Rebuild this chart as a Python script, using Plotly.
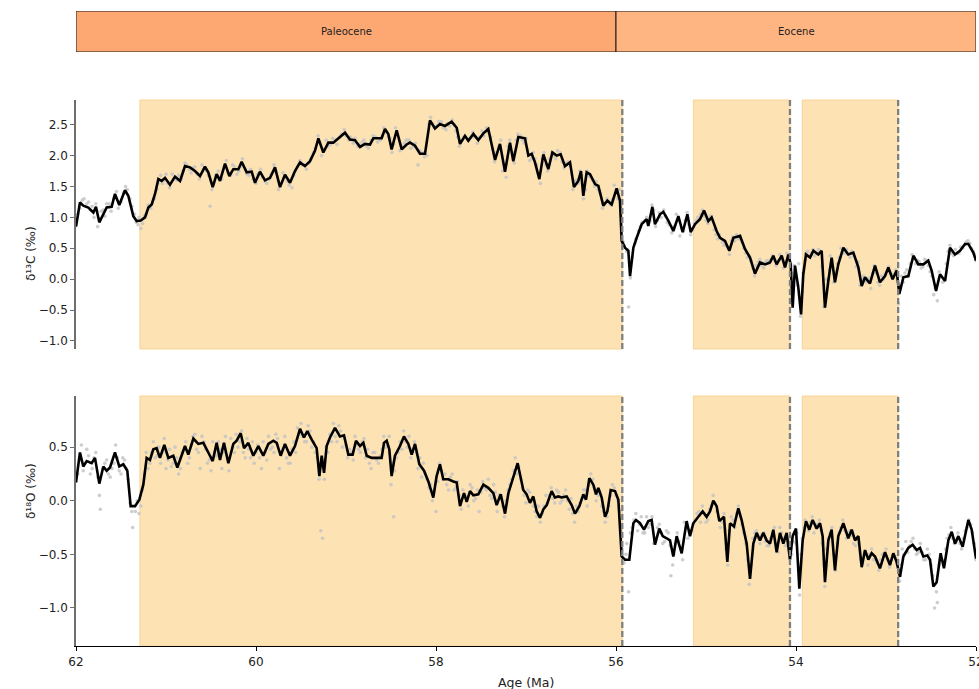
import plotly.graph_objects as go

# ---------------- data ----------------
# Smoothed benthic d13C record (age Ma, permil)
d13c_curve = [
    (62.000, 0.85), (61.956, 1.24), (61.919, 1.19), (61.863, 1.16), (61.807, 1.08), (61.778, 1.17),
    (61.741, 0.92), (61.696, 1.05), (61.659, 1.16), (61.604, 1.17), (61.567, 1.38), (61.519, 1.20),
    (61.456, 1.44), (61.419, 1.35), (61.363, 1.02), (61.326, 0.94), (61.281, 0.95), (61.233, 1.00),
    (61.196, 1.16), (61.159, 1.21), (61.122, 1.38), (61.085, 1.62), (61.048, 1.59), (61.011, 1.64),
    (60.956, 1.53), (60.900, 1.66), (60.844, 1.59), (60.789, 1.83), (60.733, 1.81), (60.678, 1.75),
    (60.622, 1.67), (60.567, 1.82), (60.530, 1.73), (60.481, 1.49), (60.437, 1.70), (60.400, 1.59),
    (60.344, 1.87), (60.296, 1.67), (60.252, 1.78), (60.196, 1.78), (60.159, 1.90), (60.104, 1.73),
    (60.048, 1.74), (60.011, 1.56), (59.956, 1.74), (59.900, 1.60), (59.844, 1.64), (59.789, 1.81),
    (59.733, 1.49), (59.678, 1.69), (59.622, 1.56), (59.567, 1.75), (59.511, 1.89), (59.456, 1.83),
    (59.400, 1.91), (59.344, 2.08), (59.307, 2.28), (59.252, 2.05), (59.196, 2.21), (59.141, 2.21),
    (59.085, 2.28), (59.011, 2.37), (58.956, 2.26), (58.900, 2.25), (58.844, 2.14), (58.789, 2.19),
    (58.733, 2.18), (58.696, 2.28), (58.604, 2.28), (58.567, 2.43), (58.530, 2.35), (58.493, 2.10),
    (58.437, 2.41), (58.381, 2.10), (58.326, 2.18), (58.289, 2.21), (58.233, 2.16), (58.178, 2.03),
    (58.122, 2.03), (58.067, 2.57), (58.011, 2.44), (57.956, 2.51), (57.900, 2.48), (57.826, 2.55),
    (57.770, 2.45), (57.733, 2.19), (57.678, 2.32), (57.641, 2.24), (57.585, 2.35), (57.530, 2.25),
    (57.474, 2.36), (57.419, 2.43), (57.344, 1.93), (57.289, 2.19), (57.233, 1.74), (57.178, 2.21),
    (57.141, 1.91), (57.085, 2.30), (57.011, 2.28), (56.974, 2.00), (56.937, 2.03), (56.900, 1.89),
    (56.852, 1.62), (56.807, 2.02), (56.752, 1.78), (56.707, 2.05), (56.659, 2.00), (56.615, 2.02),
    (56.567, 1.83), (56.511, 1.89), (56.467, 1.49), (56.419, 1.59), (56.389, 1.75), (56.363, 1.35),
    (56.326, 1.73), (56.289, 1.70), (56.233, 1.54), (56.196, 1.51), (56.141, 1.19), (56.096, 1.27),
    (56.048, 1.21), (55.993, 1.47), (55.956, 1.27), (55.937, 0.62), (55.900, 0.51), (55.863, 0.46),
    (55.844, 0.05), (55.807, 0.51), (55.770, 0.67), (55.715, 0.89), (55.659, 0.97), (55.641, 0.86),
    (55.596, 1.17), (55.567, 0.89), (55.511, 1.05), (55.474, 1.09), (55.419, 0.95), (55.363, 0.78),
    (55.307, 1.02), (55.259, 0.76), (55.207, 1.05), (55.170, 0.76), (55.122, 0.89), (55.067, 0.97),
    (55.022, 1.11), (54.974, 0.94), (54.937, 1.00), (54.882, 0.78), (54.844, 0.67), (54.789, 0.62),
    (54.741, 0.46), (54.696, 0.67), (54.622, 0.70), (54.567, 0.49), (54.511, 0.35), (54.456, 0.09),
    (54.400, 0.27), (54.344, 0.24), (54.289, 0.27), (54.252, 0.38), (54.215, 0.24), (54.159, 0.38),
    (54.122, 0.19), (54.085, 0.40), (54.059, 0.24), (54.037, -0.46), (54.011, 0.22), (53.974, -0.14),
    (53.944, -0.57), (53.919, 0.08), (53.889, 0.40), (53.844, 0.35), (53.807, 0.46), (53.752, 0.40),
    (53.715, 0.46), (53.678, -0.46), (53.641, -0.03), (53.604, 0.35), (53.567, -0.05), (53.530, 0.24),
    (53.474, 0.51), (53.419, 0.40), (53.363, 0.43), (53.307, 0.19), (53.270, -0.11), (53.233, 0.03),
    (53.178, -0.07), (53.122, 0.22), (53.067, -0.05), (53.011, 0.05), (52.974, 0.19), (52.926, 0.00),
    (52.882, 0.14), (52.852, -0.24), (52.807, 0.03), (52.752, 0.05), (52.696, 0.38), (52.641, 0.24),
    (52.585, 0.24), (52.530, 0.30), (52.493, 0.14), (52.444, -0.19), (52.400, 0.08), (52.344, -0.03),
    (52.289, 0.51), (52.233, 0.40), (52.178, 0.46), (52.122, 0.57), (52.085, 0.57), (52.030, 0.43),
    (52.000, 0.30),
]

# Individual d13C measurements
d13c_samples = [
    (61.98, 1.05), (61.93, 1.28), (61.88, 1.22), (61.84, 1.12), (61.80, 1.00), (61.76, 0.85),
    (61.72, 1.10), (61.68, 1.02), (61.63, 1.22), (61.58, 1.30), (61.55, 1.42), (61.50, 1.25),
    (61.45, 1.50), (61.40, 1.30), (61.35, 1.05), (61.31, 0.88), (61.28, 0.82), (61.24, 1.02),
    (61.20, 1.20), (61.15, 1.25), (61.10, 1.45), (61.06, 1.68), (61.02, 1.60), (60.98, 1.55),
    (60.93, 1.70), (60.88, 1.60), (60.83, 1.62), (60.79, 1.88), (60.74, 1.78), (60.70, 1.80),
    (60.65, 1.70), (60.60, 1.85), (60.55, 1.75), (60.51, 1.18), (60.47, 1.55), (60.42, 1.75),
    (60.38, 1.62), (60.33, 1.92), (60.28, 1.68), (60.24, 1.82), (60.19, 1.75), (60.15, 1.95),
    (60.10, 1.70), (60.06, 1.78), (60.00, 1.55), (59.95, 1.78), (59.90, 1.58), (59.85, 1.62),
    (59.80, 1.85), (59.75, 1.45), (59.70, 1.72), (59.65, 1.58), (59.60, 1.48), (59.56, 1.75),
    (59.51, 1.92), (59.46, 1.85), (59.41, 1.88), (59.36, 2.05), (59.31, 2.32), (59.27, 2.00),
    (59.22, 2.25), (59.17, 2.18), (59.12, 2.25), (59.07, 2.30), (59.02, 2.42), (58.97, 2.25),
    (58.92, 2.20), (58.87, 2.15), (58.82, 2.22), (58.77, 2.15), (58.72, 2.25), (58.67, 2.30),
    (58.62, 2.25), (58.58, 2.45), (58.53, 2.30), (58.49, 2.05), (58.45, 2.45), (58.40, 2.08),
    (58.35, 2.20), (58.30, 2.25), (58.25, 2.15), (58.20, 1.85), (58.15, 2.05), (58.10, 2.00),
    (58.06, 2.62), (58.02, 2.45), (57.97, 2.55), (57.92, 2.45), (57.87, 2.52), (57.82, 2.58),
    (57.78, 2.40), (57.74, 2.15), (57.69, 2.30), (57.64, 2.25), (57.59, 2.38), (57.54, 2.20),
    (57.49, 2.40), (57.44, 2.45), (57.39, 2.30), (57.35, 1.90), (57.30, 2.15), (57.26, 1.75),
    (57.22, 1.65), (57.18, 2.25), (57.13, 1.88), (57.09, 2.35), (57.04, 2.25), (57.00, 2.28),
    (56.96, 1.92), (56.92, 2.05), (56.88, 1.85), (56.84, 1.55), (56.80, 2.05), (56.76, 1.75),
    (56.71, 2.05), (56.67, 1.95), (56.62, 2.05), (56.58, 1.80), (56.53, 1.90), (56.48, 1.45),
    (56.44, 1.60), (56.40, 1.75), (56.36, 1.30), (56.32, 1.75), (56.28, 1.65), (56.24, 1.50),
    (56.20, 1.45), (56.15, 1.15), (56.10, 1.30), (56.06, 1.20), (56.02, 1.52), (55.98, 1.30),
    (55.94, 0.75), (55.91, 0.55), (55.87, 0.48), (55.84, 0.02), (55.86, -0.45), (55.78, 0.65),
    (55.73, 0.85), (55.68, 0.95), (55.64, 0.90), (55.60, 1.20), (55.56, 0.85), (55.52, 1.08),
    (55.47, 1.12), (55.43, 0.92), (55.38, 0.75), (55.33, 1.05), (55.29, 0.70), (55.25, 0.78),
    (55.21, 1.08), (55.17, 0.72), (55.13, 0.90), (55.09, 1.00), (55.04, 1.12), (55.00, 0.95),
    (54.95, 1.02), (54.91, 0.80), (54.87, 0.65), (54.82, 0.60), (54.78, 0.55), (54.74, 0.40),
    (54.70, 0.68), (54.66, 0.72), (54.62, 0.70), (54.58, 0.50), (54.54, 0.35), (54.50, 0.30),
    (54.46, 0.05), (54.42, 0.28), (54.38, 0.22), (54.34, 0.28), (54.30, 0.25), (54.26, 0.38),
    (54.22, 0.22), (54.18, 0.40), (54.14, 0.18), (54.10, 0.42), (54.06, 0.25), (54.04, -0.40),
    (54.02, 0.22), (53.98, -0.10), (53.95, -0.60), (53.92, 0.10), (53.89, 0.42), (53.85, 0.38),
    (53.81, 0.48), (53.77, 0.42), (53.73, 0.45), (53.69, -0.45), (53.66, 0.00), (53.62, 0.38),
    (53.58, -0.05), (53.54, 0.25), (53.50, 0.50), (53.46, 0.42), (53.42, 0.40), (53.38, 0.45),
    (53.33, 0.20), (53.29, -0.10), (53.25, 0.05), (53.21, -0.05), (53.17, -0.15), (53.13, 0.22),
    (53.09, -0.05), (53.05, 0.05), (53.01, 0.08), (52.97, 0.20), (52.93, 0.02), (52.89, 0.15),
    (52.86, -0.40), (52.83, 0.05), (52.79, 0.10), (52.75, 0.05), (52.71, 0.40), (52.67, 0.25),
    (52.63, 0.28), (52.59, 0.20), (52.55, 0.30), (52.51, 0.12), (52.47, -0.25), (52.43, -0.35),
    (52.39, 0.05), (52.35, 0.00), (52.31, 0.45), (52.27, 0.42), (52.23, 0.48), (52.19, 0.42),
    (52.15, 0.50), (52.11, 0.60), (52.07, 0.58), (52.03, 0.45), (52.00, 0.30),
    (61.96, 1.15), (61.91, 1.30), (61.86, 1.25), (61.82, 1.18), (61.78, 1.22), (61.74, 0.98),
    (61.70, 1.12), (61.66, 1.22), (61.61, 1.10), (61.57, 1.32), (61.53, 1.15), (61.47, 1.40),
    (61.43, 1.45), (61.38, 1.18), (61.33, 0.92), (61.30, 1.00), (61.26, 0.90), (61.22, 1.05),
    (61.17, 1.15), (61.13, 1.30), (61.09, 1.55), (61.04, 1.55), (61.00, 1.70), (60.96, 1.48),
    (60.91, 1.62), (60.86, 1.68), (60.81, 1.75), (60.77, 1.85), (60.72, 1.72), (60.68, 1.82),
    (60.63, 1.62), (60.58, 1.78), (60.53, 1.68), (60.49, 1.45), (60.45, 1.68), (60.40, 1.65),
    (60.35, 1.80), (60.31, 1.72), (60.26, 1.85), (60.21, 1.70), (60.17, 1.82), (60.12, 1.78),
    (60.08, 1.68), (60.03, 1.62), (59.98, 1.70), (59.93, 1.65), (59.88, 1.55), (59.83, 1.70),
    (59.78, 1.75), (59.73, 1.55), (59.68, 1.65), (59.63, 1.52), (59.58, 1.68), (59.54, 1.82),
    (59.49, 1.85), (59.44, 1.78), (59.39, 1.95), (59.34, 2.12), (59.29, 2.22), (59.24, 2.10),
    (59.20, 2.15), (59.15, 2.28), (59.10, 2.18), (59.05, 2.35), (59.00, 2.32), (58.95, 2.30),
    (58.90, 2.28), (58.85, 2.18), (58.80, 2.25), (58.75, 2.12), (58.70, 2.32), (58.65, 2.22),
    (58.60, 2.32), (58.56, 2.38), (58.51, 2.28), (58.47, 2.18), (58.43, 2.35), (58.38, 2.15),
    (58.33, 2.25), (58.28, 2.12), (58.23, 2.20), (58.18, 2.08), (58.13, 1.98), (58.08, 2.50),
    (58.04, 2.52), (57.99, 2.48), (57.94, 2.55), (57.89, 2.42), (57.85, 2.48), (57.80, 2.50),
    (57.76, 2.30), (57.71, 2.25), (57.66, 2.28), (57.61, 2.30), (57.57, 2.30), (57.52, 2.30),
    (57.47, 2.32), (57.42, 2.38), (57.37, 2.10), (57.33, 2.05), (57.28, 2.25), (57.24, 1.85),
    (57.20, 2.15), (57.15, 2.05), (57.11, 2.25), (57.06, 2.32), (57.02, 2.20), (56.98, 2.10),
    (56.94, 1.95), (56.90, 1.95), (56.86, 1.70), (56.82, 1.95), (56.78, 1.85), (56.74, 1.95),
    (56.69, 2.00), (56.65, 2.08), (56.60, 1.90), (56.56, 1.88), (56.51, 1.82), (56.46, 1.58),
    (56.42, 1.55), (56.38, 1.68), (56.34, 1.45), (56.30, 1.68), (56.26, 1.60), (56.22, 1.58),
    (56.18, 1.40), (56.13, 1.22), (56.08, 1.25), (56.04, 1.28), (56.00, 1.40), (55.96, 1.45),
    (55.92, 0.60), (55.88, 0.45), (55.82, 0.35), (55.79, 0.58), (55.75, 0.78), (55.71, 0.92),
    (55.66, 1.00), (55.62, 0.95), (55.58, 1.12), (55.54, 0.95), (55.50, 1.00), (55.45, 1.02),
    (55.41, 0.88), (55.36, 0.85), (55.31, 0.95), (55.27, 0.82), (55.23, 0.95), (55.19, 0.88),
    (55.15, 0.82), (55.11, 0.95), (55.06, 1.05), (55.02, 1.02), (54.98, 0.90), (54.93, 0.95),
    (54.89, 0.72), (54.85, 0.72), (54.80, 0.55), (54.76, 0.52), (54.72, 0.62), (54.68, 0.62),
    (54.64, 0.65), (54.60, 0.60), (54.56, 0.42), (54.52, 0.38), (54.48, 0.18), (54.44, 0.22),
    (54.40, 0.32), (54.36, 0.18), (54.32, 0.30), (54.28, 0.32), (54.24, 0.30), (54.20, 0.30),
    (54.16, 0.32), (54.12, 0.28), (54.08, 0.35), (54.05, 0.10), (54.00, 0.05), (53.97, 0.25),
    (53.93, -0.20), (53.90, 0.30), (53.87, 0.45), (53.83, 0.42), (53.79, 0.38), (53.75, 0.48),
    (53.71, 0.20), (53.67, -0.30), (53.63, 0.15), (53.60, 0.30), (53.56, 0.12), (53.52, 0.35),
    (53.48, 0.45), (53.44, 0.48), (53.40, 0.35), (53.36, 0.38), (53.31, 0.28), (53.27, 0.00),
    (53.23, -0.02), (53.19, 0.02), (53.15, 0.10), (53.11, 0.10), (53.07, -0.10), (53.03, 0.00),
    (52.99, 0.12), (52.95, 0.10), (52.91, 0.08), (52.87, 0.05), (52.84, -0.15), (52.81, -0.05),
    (52.77, 0.15), (52.73, 0.25), (52.69, 0.35), (52.65, 0.30), (52.61, 0.18), (52.57, 0.32),
    (52.53, 0.22), (52.49, 0.05), (52.45, -0.15), (52.41, 0.12), (52.37, -0.05), (52.33, 0.25),
    (52.29, 0.55), (52.25, 0.38), (52.21, 0.42), (52.17, 0.52), (52.13, 0.55), (52.09, 0.62),
    (52.05, 0.50), (52.01, 0.40),
]

# Smoothed benthic d18O record (age Ma, permil)
d18o_curve = [
    (62.000, 0.17), (61.956, 0.45), (61.919, 0.32), (61.881, 0.37), (61.826, 0.35), (61.789, 0.40),
    (61.741, 0.16), (61.696, 0.32), (61.659, 0.28), (61.622, 0.31), (61.567, 0.45), (61.519, 0.32),
    (61.474, 0.34), (61.430, 0.28), (61.393, -0.05), (61.344, -0.05), (61.296, 0.01), (61.252, 0.15),
    (61.215, 0.40), (61.178, 0.38), (61.141, 0.48), (61.104, 0.49), (61.067, 0.40), (61.019, 0.52),
    (60.974, 0.40), (60.919, 0.42), (60.874, 0.31), (60.826, 0.42), (60.789, 0.51), (60.752, 0.43),
    (60.696, 0.58), (60.641, 0.53), (60.585, 0.54), (60.530, 0.45), (60.481, 0.37), (60.437, 0.54),
    (60.400, 0.38), (60.356, 0.54), (60.307, 0.35), (60.252, 0.53), (60.215, 0.56), (60.170, 0.63),
    (60.133, 0.49), (60.085, 0.54), (60.030, 0.42), (59.974, 0.51), (59.919, 0.42), (59.863, 0.53),
    (59.807, 0.56), (59.770, 0.54), (59.726, 0.42), (59.678, 0.53), (59.622, 0.42), (59.567, 0.51),
    (59.511, 0.67), (59.467, 0.59), (59.430, 0.65), (59.381, 0.57), (59.326, 0.49), (59.296, 0.23),
    (59.270, 0.42), (59.244, 0.26), (59.215, 0.51), (59.178, 0.59), (59.122, 0.68), (59.067, 0.60),
    (59.022, 0.61), (58.974, 0.43), (58.926, 0.43), (58.889, 0.56), (58.844, 0.51), (58.807, 0.54),
    (58.770, 0.42), (58.715, 0.40), (58.659, 0.40), (58.604, 0.40), (58.578, 0.54), (58.548, 0.56),
    (58.519, 0.48), (58.493, 0.23), (58.456, 0.42), (58.400, 0.51), (58.356, 0.60), (58.307, 0.53),
    (58.270, 0.43), (58.233, 0.53), (58.185, 0.34), (58.133, 0.28), (58.085, 0.18), (58.030, 0.03),
    (57.993, 0.23), (57.956, 0.34), (57.919, 0.20), (57.863, 0.20), (57.807, 0.18), (57.770, 0.17),
    (57.733, -0.05), (57.689, 0.07), (57.659, -0.01), (57.622, 0.09), (57.585, 0.05), (57.530, 0.06),
    (57.474, 0.15), (57.419, 0.12), (57.363, 0.07), (57.326, -0.04), (57.281, 0.06), (57.233, -0.12),
    (57.196, 0.07), (57.148, 0.20), (57.093, 0.35), (57.030, 0.10), (56.993, 0.06), (56.956, -0.02),
    (56.919, 0.04), (56.881, -0.10), (56.844, -0.16), (56.807, -0.08), (56.770, -0.04), (56.715, 0.09),
    (56.678, 0.03), (56.641, 0.04), (56.604, 0.03), (56.548, 0.04), (56.493, -0.04), (56.456, -0.12),
    (56.407, -0.05), (56.363, 0.06), (56.333, 0.01), (56.296, 0.21), (56.252, 0.15), (56.222, 0.06),
    (56.196, 0.12), (56.159, 0.03), (56.122, -0.15), (56.096, -0.10), (56.059, 0.10), (56.011, 0.09),
    (55.974, 0.01), (55.937, -0.52), (55.900, -0.55), (55.852, -0.55), (55.807, -0.21), (55.778, -0.18),
    (55.733, -0.21), (55.689, -0.27), (55.641, -0.19), (55.604, -0.18), (55.567, -0.41), (55.519, -0.26),
    (55.481, -0.33), (55.437, -0.35), (55.400, -0.37), (55.363, -0.52), (55.326, -0.33), (55.270, -0.49),
    (55.215, -0.19), (55.178, -0.33), (55.141, -0.21), (55.085, -0.15), (55.037, -0.10), (54.993, -0.15),
    (54.956, -0.10), (54.919, 0.00), (54.882, -0.05), (54.852, -0.19), (54.800, -0.15), (54.763, -0.57),
    (54.733, -0.21), (54.689, -0.24), (54.641, -0.07), (54.604, -0.18), (54.548, -0.40), (54.511, -0.73),
    (54.474, -0.40), (54.437, -0.30), (54.400, -0.37), (54.363, -0.30), (54.326, -0.37), (54.289, -0.40),
    (54.252, -0.27), (54.215, -0.48), (54.178, -0.30), (54.141, -0.40), (54.104, -0.30), (54.067, -0.55),
    (54.037, -0.33), (54.000, -0.26), (53.963, -0.82), (53.926, -0.37), (53.889, -0.19), (53.852, -0.27),
    (53.815, -0.18), (53.770, -0.26), (53.733, -0.21), (53.704, -0.33), (53.678, -0.76), (53.641, -0.37),
    (53.604, -0.27), (53.567, -0.65), (53.530, -0.33), (53.474, -0.21), (53.419, -0.35), (53.381, -0.27),
    (53.344, -0.37), (53.307, -0.33), (53.270, -0.62), (53.233, -0.46), (53.196, -0.55), (53.159, -0.49),
    (53.122, -0.52), (53.067, -0.63), (53.011, -0.48), (52.956, -0.60), (52.919, -0.49), (52.882, -0.57),
    (52.844, -0.71), (52.807, -0.52), (52.752, -0.44), (52.704, -0.41), (52.659, -0.46), (52.622, -0.44),
    (52.585, -0.52), (52.541, -0.51), (52.511, -0.55), (52.474, -0.80), (52.437, -0.76), (52.393, -0.49),
    (52.356, -0.63), (52.307, -0.37), (52.270, -0.29), (52.233, -0.40), (52.196, -0.33), (52.148, -0.43),
    (52.085, -0.18), (52.048, -0.27), (52.000, -0.54),
]

# Individual d18O measurements
d18o_samples = [
    (61.98, 0.25), (61.94, 0.52), (61.90, 0.35), (61.86, 0.42), (61.82, 0.30), (61.78, 0.45),
    (61.74, 0.05), (61.73, -0.08), (61.68, 0.35), (61.64, 0.25), (61.60, 0.30), (61.56, 0.52),
    (61.52, 0.28), (61.48, 0.40), (61.44, 0.30), (61.40, -0.02), (61.37, -0.25), (61.34, -0.10),
    (61.30, -0.12), (61.26, 0.10), (61.22, 0.45), (61.18, 0.35), (61.14, 0.55), (61.10, 0.42),
    (61.06, 0.35), (61.02, 0.58), (60.98, 0.38), (60.94, 0.32), (60.90, 0.50), (60.86, 0.25),
    (60.82, 0.45), (60.78, 0.55), (60.74, 0.40), (60.70, 0.60), (60.66, 0.48), (60.62, 0.30),
    (60.58, 0.55), (60.54, 0.35), (60.50, 0.28), (60.46, 0.45), (60.42, 0.55), (60.38, 0.30),
    (60.34, 0.60), (60.30, 0.28), (60.26, 0.50), (60.22, 0.62), (60.18, 0.55), (60.14, 0.45),
    (60.10, 0.58), (60.06, 0.40), (60.02, 0.35), (59.98, 0.52), (59.94, 0.30), (59.90, 0.45),
    (59.86, 0.60), (59.82, 0.50), (59.78, 0.62), (59.74, 0.30), (59.70, 0.48), (59.66, 0.40),
    (59.62, 0.35), (59.58, 0.55), (59.54, 0.68), (59.50, 0.72), (59.46, 0.55), (59.42, 0.70),
    (59.38, 0.50), (59.34, 0.45), (59.30, 0.20), (59.28, -0.28), (59.26, -0.35), (59.22, 0.50),
    (59.18, 0.62), (59.14, 0.72), (59.10, 0.55), (59.06, 0.65), (59.02, 0.58), (58.98, 0.40),
    (58.94, 0.45), (58.90, 0.60), (58.86, 0.48), (58.82, 0.55), (58.78, 0.40), (58.74, 0.35),
    (58.70, 0.45), (58.66, 0.38), (58.62, 0.42), (58.58, 0.60), (58.54, 0.52), (58.50, 0.15),
    (58.47, -0.15), (58.44, 0.40), (58.40, 0.55), (58.36, 0.65), (58.32, 0.50), (58.28, 0.40),
    (58.24, 0.55), (58.20, 0.30), (58.16, 0.22), (58.12, 0.25), (58.08, 0.12), (58.04, 0.00),
    (58.00, -0.10), (57.96, 0.35), (57.92, 0.20), (57.88, 0.15), (57.84, 0.22), (57.80, 0.10),
    (57.76, 0.18), (57.72, -0.08), (57.68, 0.05), (57.64, -0.05), (57.60, 0.12), (57.56, 0.02),
    (57.52, -0.10), (57.48, 0.18), (57.44, 0.10), (57.40, 0.05), (57.36, 0.15), (57.32, -0.10),
    (57.28, 0.02), (57.24, -0.15), (57.20, 0.10), (57.16, 0.20), (57.12, 0.40), (57.08, 0.32),
    (57.04, 0.12), (57.00, -0.02), (56.96, 0.08), (56.92, -0.05), (56.88, -0.15), (56.84, -0.20),
    (56.80, -0.05), (56.76, -0.02), (56.72, 0.12), (56.68, -0.02), (56.64, 0.08), (56.60, 0.00),
    (56.56, 0.10), (56.52, -0.08), (56.48, -0.12), (56.44, -0.05), (56.40, -0.02), (56.36, 0.10),
    (56.32, -0.05), (56.28, 0.25), (56.24, 0.12), (56.20, 0.05), (56.16, -0.05), (56.12, -0.20),
    (56.08, -0.05), (56.04, 0.15), (56.00, 0.05), (55.96, -0.10), (55.93, -0.45), (55.89, -0.50),
    (55.86, -0.85), (55.82, -0.25), (55.78, -0.12), (55.74, -0.22), (55.70, -0.30), (55.66, -0.15),
    (55.62, -0.22), (55.58, -0.40), (55.54, -0.25), (55.50, -0.30), (55.46, -0.38), (55.42, -0.30),
    (55.39, -0.70), (55.36, -0.50), (55.32, -0.30), (55.28, -0.45), (55.24, -0.20), (55.20, -0.35),
    (55.16, -0.28), (55.12, -0.18), (55.08, -0.10), (55.04, -0.05), (55.00, -0.20), (54.96, -0.08),
    (54.92, 0.05), (54.88, -0.10), (54.84, -0.25), (54.80, -0.12), (54.76, -0.60), (54.72, -0.15),
    (54.68, -0.25), (54.64, -0.05), (54.60, -0.22), (54.56, -0.40), (54.52, -0.78), (54.48, -0.35),
    (54.44, -0.28), (54.40, -0.40), (54.36, -0.30), (54.32, -0.42), (54.28, -0.35), (54.24, -0.25),
    (54.20, -0.48), (54.16, -0.30), (54.12, -0.42), (54.08, -0.35), (54.05, -0.50), (54.02, -0.30),
    (53.99, -0.30), (53.96, -0.88), (53.93, -0.35), (53.90, -0.18), (53.86, -0.28), (53.82, -0.15),
    (53.78, -0.25), (53.74, -0.18), (53.71, -0.40), (53.68, -0.80), (53.64, -0.35), (53.60, -0.25),
    (53.56, -0.65), (53.52, -0.30), (53.48, -0.18), (53.44, -0.35), (53.40, -0.28), (53.36, -0.40),
    (53.32, -0.35), (53.28, -0.55), (53.24, -0.48), (53.20, -0.60), (53.16, -0.45), (53.12, -0.55),
    (53.08, -0.65), (53.04, -0.50), (53.00, -0.45), (52.96, -0.62), (52.92, -0.50), (52.88, -0.58),
    (52.85, -0.75), (52.82, -0.45), (52.78, -0.38), (52.74, -0.42), (52.70, -0.35), (52.66, -0.50),
    (52.62, -0.40), (52.58, -0.55), (52.54, -0.45), (52.50, -0.60), (52.46, -1.00), (52.43, -0.95),
    (52.40, -0.55), (52.36, -0.60), (52.32, -0.35), (52.28, -0.25), (52.24, -0.40), (52.20, -0.30),
    (52.16, -0.45), (52.12, -0.28), (52.08, -0.18), (52.04, -0.30), (52.00, -0.55),
    (61.96, 0.38), (61.92, 0.28), (61.88, 0.48), (61.84, 0.25), (61.80, 0.40), (61.76, 0.22),
    (61.70, 0.30), (61.66, 0.38), (61.62, 0.22), (61.58, 0.35), (61.54, 0.40), (61.50, 0.25),
    (61.46, 0.38), (61.42, 0.20), (61.38, -0.10), (61.32, 0.00), (61.28, -0.05), (61.24, 0.25),
    (61.20, 0.30), (61.16, 0.45), (61.12, 0.40), (61.08, 0.50), (61.04, 0.45), (61.00, 0.30),
    (60.96, 0.48), (60.92, 0.35), (60.88, 0.40), (60.84, 0.30), (60.80, 0.48), (60.76, 0.35),
    (60.72, 0.52), (60.68, 0.62), (60.64, 0.45), (60.60, 0.60), (60.56, 0.48), (60.52, 0.38),
    (60.48, 0.55), (60.44, 0.42), (60.40, 0.48), (60.36, 0.45), (60.32, 0.40), (60.28, 0.58),
    (60.24, 0.45), (60.20, 0.50), (60.16, 0.65), (60.12, 0.40), (60.08, 0.48), (60.04, 0.55),
    (60.00, 0.45), (59.96, 0.40), (59.92, 0.55), (59.88, 0.38), (59.84, 0.48), (59.80, 0.45),
    (59.76, 0.58), (59.72, 0.45), (59.68, 0.60), (59.64, 0.35), (59.60, 0.48), (59.56, 0.45),
    (59.52, 0.62), (59.48, 0.60), (59.44, 0.55), (59.40, 0.65), (59.36, 0.55), (59.32, 0.40),
    (59.29, 0.30), (59.24, 0.20), (59.20, 0.45), (59.16, 0.55), (59.12, 0.60), (59.08, 0.70),
    (59.04, 0.50), (59.00, 0.52), (58.96, 0.48), (58.92, 0.38), (58.88, 0.52), (58.84, 0.45),
    (58.80, 0.58), (58.76, 0.48), (58.72, 0.30), (58.68, 0.45), (58.64, 0.35), (58.60, 0.48),
    (58.56, 0.50), (58.52, 0.60), (58.48, 0.35), (58.46, 0.28), (58.42, 0.45), (58.38, 0.48),
    (58.34, 0.55), (58.30, 0.60), (58.26, 0.48), (58.22, 0.45), (58.18, 0.40), (58.14, 0.35),
    (58.10, 0.20), (58.06, 0.15), (58.02, 0.10), (57.98, 0.18), (57.94, 0.28), (57.90, 0.25),
    (57.86, 0.10), (57.82, 0.25), (57.78, 0.12), (57.74, 0.05), (57.70, 0.10), (57.66, 0.02),
    (57.62, 0.15), (57.58, 0.00), (57.54, 0.10), (57.50, 0.08), (57.46, 0.12), (57.42, 0.20),
    (57.38, 0.02), (57.34, 0.08), (57.30, 0.05), (57.26, -0.05), (57.22, 0.00), (57.18, 0.15),
    (57.14, 0.28), (57.10, 0.25), (57.06, 0.20), (57.02, 0.05), (56.98, 0.10), (56.94, 0.00),
    (56.90, -0.10), (56.86, -0.05), (56.82, -0.12), (56.78, 0.05), (56.74, 0.05), (56.70, 0.02),
    (56.66, 0.10), (56.62, -0.02), (56.58, 0.05), (56.54, 0.00), (56.50, 0.02), (56.46, -0.20),
    (56.42, -0.10), (56.38, 0.02), (56.34, 0.10), (56.30, 0.15), (56.26, 0.20), (56.22, 0.00),
    (56.18, 0.08), (56.14, -0.10), (56.10, -0.15), (56.06, 0.05), (56.02, 0.12), (55.98, 0.00),
    (55.95, -0.30), (55.91, -0.58), (55.88, -0.40), (55.84, -0.30), (55.80, -0.18), (55.76, -0.28),
    (55.72, -0.15), (55.68, -0.30), (55.64, -0.25), (55.60, -0.15), (55.56, -0.35), (55.52, -0.22),
    (55.48, -0.40), (55.44, -0.28), (55.40, -0.42), (55.37, -0.60), (55.34, -0.40), (55.30, -0.38),
    (55.26, -0.55), (55.22, -0.25), (55.18, -0.28), (55.14, -0.22), (55.10, -0.12), (55.06, -0.20),
    (55.02, -0.12), (54.98, -0.18), (54.94, -0.05), (54.90, -0.02), (54.86, -0.15), (54.82, -0.20),
    (54.78, -0.45), (54.74, -0.28), (54.70, -0.18), (54.66, -0.12), (54.62, -0.15), (54.58, -0.30),
    (54.54, -0.55), (54.50, -0.60), (54.46, -0.30), (54.42, -0.35), (54.38, -0.32), (54.34, -0.38),
    (54.30, -0.42), (54.26, -0.30), (54.22, -0.40), (54.18, -0.25), (54.14, -0.35), (54.10, -0.38),
    (54.06, -0.45), (54.03, -0.38), (54.00, -0.40), (53.97, -0.65), (53.94, -0.50), (53.91, -0.25),
    (53.88, -0.22), (53.84, -0.20), (53.80, -0.30), (53.76, -0.22), (53.72, -0.28), (53.69, -0.60),
    (53.66, -0.45), (53.62, -0.30), (53.58, -0.50), (53.54, -0.40), (53.50, -0.25), (53.46, -0.28),
    (53.42, -0.30), (53.38, -0.32), (53.34, -0.42), (53.30, -0.40), (53.26, -0.58), (53.22, -0.50),
    (53.18, -0.50), (53.14, -0.55), (53.10, -0.58), (53.06, -0.55), (53.02, -0.52), (52.98, -0.55),
    (52.94, -0.55), (52.90, -0.52), (52.86, -0.65), (52.83, -0.60), (52.80, -0.50), (52.76, -0.48),
    (52.72, -0.38), (52.68, -0.45), (52.64, -0.48), (52.60, -0.48), (52.56, -0.55), (52.52, -0.50),
    (52.48, -0.70), (52.44, -0.85), (52.41, -0.60), (52.38, -0.55), (52.34, -0.45), (52.30, -0.32),
    (52.26, -0.35), (52.22, -0.38), (52.18, -0.40), (52.14, -0.35), (52.10, -0.25), (52.06, -0.22),
    (52.02, -0.40),
]

# Highlighted intervals (older, younger) in Ma and event markers at their young ends
interval_old = [61.29, 55.14, 53.93]
interval_young = [55.93, 54.067, 52.865]

# Geologic epochs shown in the timescale strip
epoch_names = ["Paleocene", "Eocene"]
epoch_old = [66.0, 56.0]
epoch_young = [56.0, 33.9]
epoch_colors = ["#FDA872", "#FEB581"]

age_range = [62, 52]
x_ticks = [62, 60, 58, 56, 54, 52]
c_ticks = [-1.0, -0.5, 0.0, 0.5, 1.0, 1.5, 2.0, 2.5]
o_ticks = [-1.0, -0.5, 0.0, 0.5]

# ---------------- figure ----------------
W, H = 979, 689
FONT = "DejaVu Sans"
x_dom = [76 / W, 976 / W]
y_dom_scale = [1 - 52 / H, 1 - 11 / H]
y_dom_c = [1 - 349 / H, 1 - 100 / H]
y_dom_o = [1 - 646 / H, 1 - 396 / H]


def fmt(v):
    s = f"{v:.1f}"
    return s.replace("-", "\u2212")


fig = go.Figure()

panels = [("x", "y", d13c_samples, d13c_curve), ("x2", "y2", d18o_samples, d18o_curve)]
for xa, ya, samples, curve in panels:
    fig.add_trace(go.Scatter(
        x=[a for a, _ in samples], y=[v for _, v in samples], xaxis=xa, yaxis=ya,
        mode="markers", marker=dict(size=3.6, color="#c4c4c4", opacity=0.85),
        showlegend=False, hoverinfo="skip"))
    fig.add_trace(go.Scatter(
        x=[a for a, _ in curve], y=[v for _, v in curve], xaxis=xa, yaxis=ya,
        mode="lines", line=dict(color="black", width=2.6),
        showlegend=False, hoverinfo="skip"))

shapes = []
for xa, ya in [("x", "y"), ("x2", "y2")]:
    for old, young in zip(interval_old, interval_young):
        shapes.append(dict(type="rect", xref=xa, yref=f"{ya} domain", x0=old, x1=young,
                           y0=0, y1=1, fillcolor="#FDE2B3",
                           line=dict(color="#F8D497", width=1), layer="below"))
    for young in interval_young:
        shapes.append(dict(type="line", xref=xa, yref=f"{ya} domain", x0=young, x1=young,
                           y0=0, y1=1, line=dict(color="#7f7f7f", width=2.3, dash="6px,3px"),
                           layer="above"))

# timescale strip, clipped to the plotted age range
lo, hi = min(age_range), max(age_range)
annotations = []
for name, old, young, col in zip(epoch_names, epoch_old, epoch_young, epoch_colors):
    a0, a1 = min(old, hi), max(young, lo)
    shapes.append(dict(type="rect", xref="x3", yref="y3", x0=a0, x1=a1, y0=0, y1=1,
                       fillcolor=col, line=dict(color="#1a1a1a", width=1), layer="above"))
    annotations.append(dict(x=(a0 + a1) / 2, y=0.5, xref="x3", yref="y3", text=name,
                            showarrow=False, font=dict(family=FONT, size=10, color="#222")))

annotations += [
    dict(x=22 / W, y=(y_dom_c[0] + y_dom_c[1]) / 2, xref="paper", yref="paper",
         text="δ¹³C (‰)", textangle=-90, showarrow=False,
         font=dict(family=FONT, size=12, color="#222")),
    dict(x=22 / W, y=(y_dom_o[0] + y_dom_o[1]) / 2, xref="paper", yref="paper",
         text="δ¹⁸O (‰)", textangle=-90, showarrow=False,
         font=dict(family=FONT, size=12, color="#222")),
    dict(x=(x_dom[0] + x_dom[1]) / 2, y=1 - 682 / H, xref="paper", yref="paper",
         text="Age (Ma)", showarrow=False, yanchor="middle",
         font=dict(family=FONT, size=12.5, color="#222")),
]

yaxis_common = dict(showline=True, linecolor="#6e6e6e", linewidth=1.6, ticks="outside",
                    ticklen=4, tickcolor="#6e6e6e", showgrid=False, zeroline=False,
                    automargin=False, tickfont=dict(family=FONT, size=12, color="#222"))

fig.update_layout(
    width=W, height=H, margin=dict(l=0, r=0, t=0, b=0, autoexpand=False),
    paper_bgcolor="white", plot_bgcolor="white",
    xaxis=dict(domain=x_dom, range=age_range, anchor="y", visible=False, automargin=False),
    yaxis=dict(domain=y_dom_c, range=[-1.13, 2.9], anchor="x",
               tickvals=c_ticks, ticktext=[fmt(v) for v in c_ticks], **yaxis_common),
    xaxis2=dict(domain=x_dom, range=age_range, anchor="y2", showline=True, linecolor="black",
                linewidth=1.2, ticks="outside", ticklen=4, tickcolor="black",
                tickvals=x_ticks, ticktext=[str(t) for t in x_ticks], showgrid=False,
                zeroline=False, automargin=False, ticklabeloverflow="allow",
                tickfont=dict(family=FONT, size=12, color="#222")),
    yaxis2=dict(domain=y_dom_o, range=[-1.355, 0.977], anchor="x2",
                tickvals=o_ticks, ticktext=[fmt(v) for v in o_ticks], **yaxis_common),
    xaxis3=dict(domain=x_dom, range=age_range, anchor="y3", visible=False, automargin=False),
    yaxis3=dict(domain=y_dom_scale, range=[0, 1], anchor="x3", visible=False, automargin=False),
    shapes=shapes, annotations=annotations,
)

fig.write_html("out.html")
